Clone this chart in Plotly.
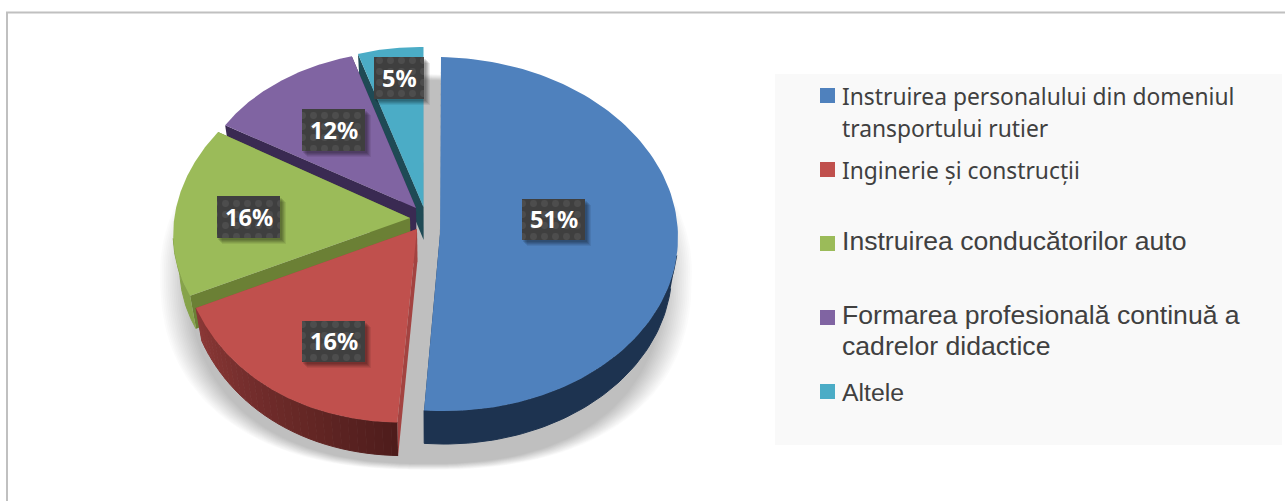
import numpy as np
import plotly.graph_objects as go

# ---- data ----
categories = [
    "Instruirea personalului din domeniul<br>transportului rutier",
    "Inginerie și construcții",
    "Instruirea conducătorilor auto",
    "Formarea profesională continuă a<br>cadrelor didactice",
    "Altele",
]
values = [51, 16, 16, 12, 5]

# ---- styles and geometry (pixel-like axes) ----
top_colors = ["#4f81bd", "#c0504d", "#9bbb59", "#8064a2", "#4bacc6"]
radial_colors = ["#1d3350", "#a34341", "#6b8035", "#3a2a52", "#1f4a55"]
outer_left = ["#1d3350", "#8a3836", "#86a34a", "#3a2a52", "#1f4a55"]
outer_right = ["#1d3350", "#4e1c1b", "#86a34a", "#3a2a52", "#1f4a55"]
apex = [(440, 234), (417, 229), (410, 218), (416, 208), (423.5, 207)]
u_axis = [(238, 4), (250, 17), (235, 4.6), (220, 8), (212, 3)]
v_axis = [(-1, 177), (-4, 195), (-29, 170), (-4, 157), (0, 160)]
bulge = [0, 0.04, 0, 0, 0]
DEPTH = 33
BASE_SCALE = 0.975
BASE_CX = 430

label_boxes = [(522, 199, 585, 240), (302, 321, 365, 362), (217, 196, 280, 238),
               (302, 109, 365, 151), (374, 57, 424, 99)]
legend_sq_y = [95.5, 169.5, 243.5, 317.5, 391.5]
legend_line_y = [[96, 128], [170], [241], [315, 346], [392]]
legend_fonts = ["Noto Sans", "Noto Sans", "Liberation Sans", "Liberation Sans", "Liberation Sans"]
legend_sizes = [22.8, 22.8, 26.6, 26.6, 24.8]

fig = go.Figure()


def poly(xs, ys, color, lw=0, **kw):
    fig.add_trace(go.Scatter(x=list(xs), y=list(ys), mode="lines", fill="toself", fillcolor=color,
                             line=dict(width=lw, color=color), hoverinfo="skip", showlegend=False, **kw))


def mix(a, b, t):
    ca = [int(a[i:i + 2], 16) for i in (1, 3, 5)]
    cb = [int(b[i:i + 2], 16) for i in (1, 3, 5)]
    return "rgb(" + ",".join(str(round(p + (q - p) * t)) for p, q in zip(ca, cb)) + ")"


def base_x(x):
    return BASE_CX + (np.asarray(x) - BASE_CX) * BASE_SCALE


# soft shadow below the pie
n_layers = 16
alpha = 1 - 0.8 ** (1 / n_layers)
t = np.linspace(0, 2 * np.pi, 200)
for k in range(n_layers):
    f = k / (n_layers - 1)
    rx, ry = 266 - 28 * f, 198 - 6 * f
    p = np.where(np.sin(t) > 0, 2.4, 2.0)
    cs = np.sign(np.cos(t)) * np.abs(np.cos(t)) ** (2 / p)
    sn = np.sign(np.sin(t)) * np.abs(np.sin(t)) ** (2 / p)
    poly(426 + rx * cs, 272 + ry * sn, f"rgba(0,0,0,{alpha:.4f})")

# slice angles come from the values
total = sum(values)
edges = np.cumsum([0] + values) / total * 2 * np.pi


def arc(i, th):
    ax, ay = apex[i]
    (ux, uy), (vx, vy) = u_axis[i], v_axis[i]
    s = 1 + bulge[i] * np.sin(np.pi * (th - edges[i]) / (edges[i + 1] - edges[i]))
    return (ax + s * (ux * np.sin(th) - vx * np.cos(th)), ay + s * (uy * np.sin(th) - vy * np.cos(th)))


for i in [4, 3, 2, 1, 0]:
    ax, ay = apex[i]
    th = np.linspace(edges[i], edges[i + 1], 120)
    x, y = arc(i, th)
    # radial walls
    for tip in (0, -1):
        poly([ax, x[tip], float(base_x(x[tip])), float(base_x(ax))],
             [ay, y[tip], y[tip] + DEPTH, ay + DEPTH], radial_colors[i])
    # outer wall, only on the near side of the slice, in steps so that it can carry a shade
    near = np.where(y > ay + 20)[0]
    if len(near) > 1:
        xn, yn = x[near], y[near]
        steps = 30 if outer_left[i] != outer_right[i] else 1
        idx = np.linspace(0, len(xn) - 1, steps + 1).astype(int)
        for s in range(steps):
            a, b = idx[s], idx[s + 1] + 1
            col = mix(outer_right[i], outer_left[i], s / max(steps - 1, 1))
            poly(np.r_[xn[a:b], base_x(xn[a:b])[::-1]], np.r_[yn[a:b], yn[a:b][::-1] + DEPTH], col, lw=1)
    # top face
    poly(np.r_[ax, x], np.r_[ay, y], top_colors[i])

# value labels
for v, (x0, y0, x1, y1) in zip(values, label_boxes):
    for d, a_ in ((6, 0.07), (5, 0.08), (4, 0.10), (3, 0.10), (2, 0.10)):
        poly([x0 + d - 1, x1 + d, x1 + d, x0 + d - 1], [y0 + d, y0 + d, y1 + d, y1 + d], f"rgba(0,0,0,{a_})")
    fig.add_trace(go.Scatter(
        x=[x0, x1, x1, x0, x0], y=[y0, y0, y1, y1, y0], mode="lines", fill="toself",
        fillcolor="#3f3f3f", line=dict(width=0, color="#3f3f3f"), hoverinfo="skip", showlegend=False,
        fillpattern=dict(shape=".", bgcolor="#3f3f3f", fgcolor="#4d4d4d", size=11, solidity=0.3, fillmode="replace"),
    ))
    fig.add_annotation(x=(x0 + x1) / 2, y=(y0 + y1) / 2 - 0.5, text=f"<b>{v}%</b>", showarrow=False,
                       font=dict(family="Noto Sans", size=23.5, color="#ffffff"))

# legend squares and lines
fig.add_trace(go.Scatter(x=[827.5] * len(categories), y=legend_sq_y, mode="markers",
                         marker=dict(symbol="square", size=15, color=top_colors, line=dict(width=0)),
                         hoverinfo="skip", showlegend=False))
for cat, ys, fam, size in zip(categories, legend_line_y, legend_fonts, legend_sizes):
    for line, yy in zip(cat.split("<br>"), ys):
        fig.add_annotation(x=840, y=yy, text=line, showarrow=False, xanchor="left",
                           font=dict(family=fam, size=size, color="#404040"))

fig.update_layout(
    width=1285, height=501, autosize=False,
    margin=dict(l=0, r=0, t=0, b=0),
    paper_bgcolor="#ffffff", plot_bgcolor="#ffffff",
    xaxis=dict(range=[0, 1285], visible=False, fixedrange=True),
    yaxis=dict(range=[501, 0], visible=False, fixedrange=True),
    shapes=[
        dict(type="rect", xref="x", yref="y", x0=775, x1=1282, y0=74, y1=445, layer="below",
             fillcolor="#f9f9f9", line=dict(width=0)),
        dict(type="line", xref="x", yref="y", x0=6, x1=1285, y0=12.5, y1=12.5, layer="below",
             line=dict(color="#c0c0c0", width=2)),
        dict(type="line", xref="x", yref="y", x0=7, x1=7, y0=12, y1=501, layer="below",
             line=dict(color="#c0c0c0", width=2)),
    ],
)
fig.write_html("out.html", config=dict(displayModeBar=False),
               post_script="document.body.style.margin='0';document.body.style.overflow='hidden';")
